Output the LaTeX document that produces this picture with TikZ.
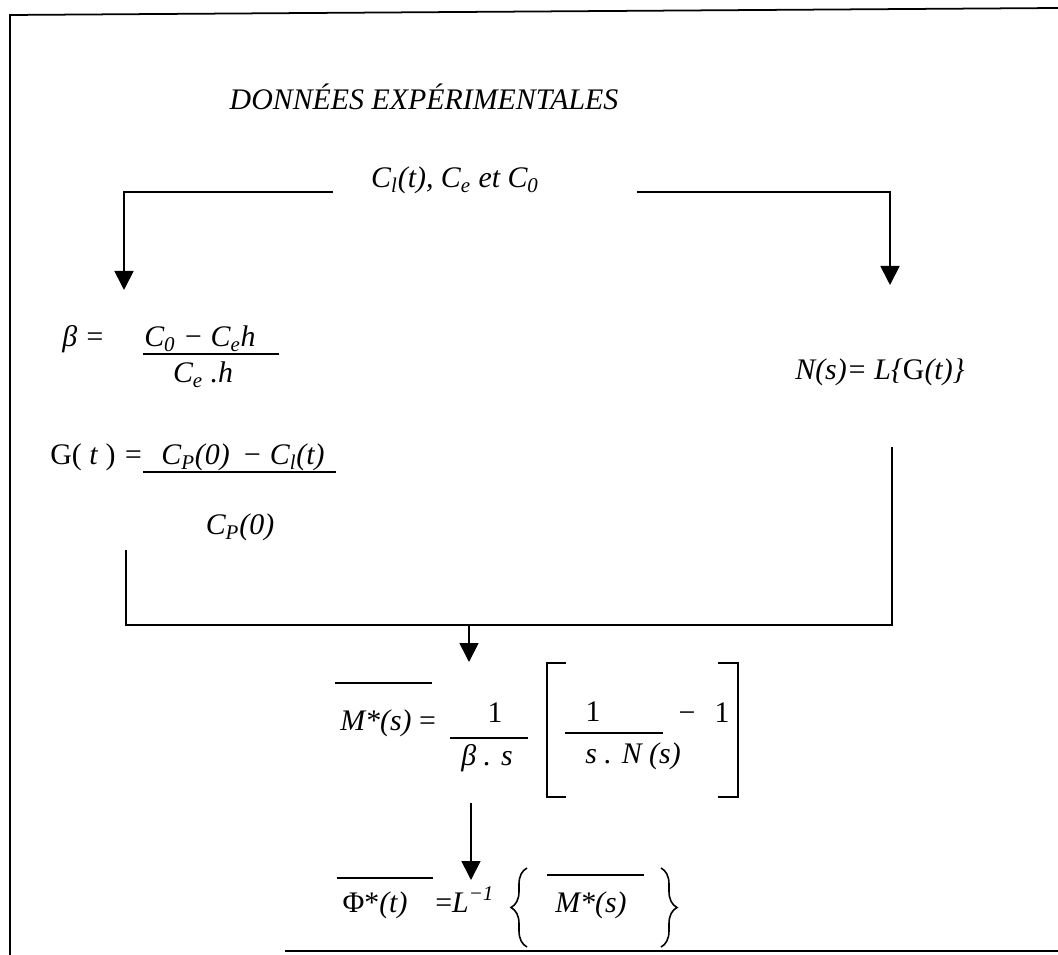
\documentclass[tikz,border=0pt]{standalone}
\usepackage{fontspec}
\setmainfont{Liberation Serif}
\usetikzlibrary{arrows.meta, positioning, calc, decorations.pathreplacing}

\begin{document}
\begin{tikzpicture}[
    x=0.02cm, y=-0.02cm,
    txt/.style={inner sep=0pt, font=\fontsize{17pt}{20pt}\selectfont\itshape},
    flow/.style={-{Triangle[length=0.38cm, width=0.38cm]}, line width=1pt},
    link/.style={line width=1pt},
    bar/.style={line width=0.9pt},
    curly/.style={line width=0.9pt, decorate, decoration={brace, amplitude=0.32cm}},
]

\useasboundingbox (0,0) rectangle (1058,955);

\draw[link] (10,955) -- (10,15) -- (1058,8);
\draw[link] (285,951) -- (1058,951);

\node[txt] (title) at (424,97) {DONNÉES EXPÉRIMENTALES};
\node[txt, anchor=base] (data) at (455,188) {C\textsubscript{l}(t), C\textsubscript{e} et C\textsubscript{0}};

\node[txt, anchor=base west] (betalhs) at (62,347) {β =};
\node[txt, anchor=base] (betanum) at (200,347) {C\textsubscript{0} − C\textsubscript{e}h};
\draw[bar] (143,354) -- (279,354);
\node[txt, anchor=base] (betaden) at (203,383) {C\textsubscript{e} .h};

\node[txt, anchor=base west] (glhs) at (50,465) {\textup{G(} t \textup{)} =};
\node[txt, anchor=base] (gnum) at (243,465) {C\textsubscript{P}(0) \,− C\textsubscript{l}(t)};
\draw[bar] (143,472) -- (336,472);
\node[txt, anchor=base] (gden) at (240,535) {C\textsubscript{P}(0)};

\node[txt, anchor=base] (laplace) at (880,380) {N(s)= L\{\textup{G}(t)\}};

\draw[bar] (335,683) -- (432,683);
\node[txt, anchor=base west] (mlhs) at (340,730) {M*(s) \textup{=}};
\node[txt, anchor=base] (mnum) at (495,723) {\textup{1}};
\draw[bar] (450,738) -- (528,738);
\node[txt, anchor=base] (mden) at (487,765) {β . s};
\draw[link] (566,663) -- (547,663) -- (547,797) -- (566,797);
\node[txt, anchor=base] (inum) at (593,722) {\textup{1}};
\draw[bar] (565,733) -- (663,733);
\node[txt, anchor=base] (iden) at (633,763) {s . N (s)};
\node[txt, anchor=base] (minus) at (687,723) {\textup{−}};
\node[txt, anchor=base] (one) at (722,723) {\textup{1}};
\draw[link] (718,663) -- (738,663) -- (738,797) -- (718,797);

\draw[bar] (337,878) -- (433,878);
\node[txt, anchor=base] (phi) at (375,912) {\textup{Φ*}(t)};
\node[txt, anchor=base west] (inv) at (435,912) {\textup{=}L\textsuperscript{−1}};
\draw[curly] (527,947) -- (527,868);
\draw[bar] (547,875) -- (644,875);
\node[txt, anchor=base] (mstar) at (591,912) {M*(s)};
\draw[curly] (661,868) -- (661,947);

\coordinate (splitL) at (333,192);
\coordinate (splitR) at (637,192);
\coordinate (tipL) at (124,290);
\coordinate (tipR) at (890,285);
\coordinate (joinL) at (126,550);
\coordinate (joinR) at (892,447);
\coordinate (join) at (469,625);
\coordinate (tipM) at (469,662);
\coordinate (fromM) at (471,803);
\coordinate (tipPhi) at (471,880);

\draw[flow] (splitL) -| (tipL);
\draw[flow] (splitR) -| (tipR);
\draw[link] (joinL) |- (join) -| (joinR);
\draw[flow] (join) -- (tipM);
\draw[flow] (fromM) -- (tipPhi);

\end{tikzpicture}
\end{document}
